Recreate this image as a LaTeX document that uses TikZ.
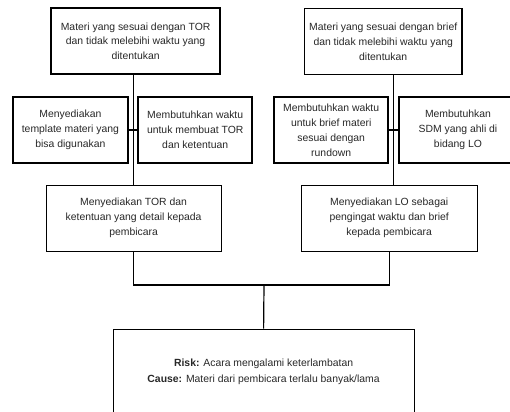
\documentclass[tikz,border=0pt]{standalone}
\usepackage{fontspec}
\setmainfont{Liberation Sans}
\usepackage{tikz}
\usetikzlibrary{calc}
\definecolor{mytext}{RGB}{40,40,40}
\tikzset{
  goalbox/.style={rectangle, draw=black, fill=white, align=center,
    minimum height=1.65cm, line width=1.05pt, text=mytext,
    font=\fontsize{7.4}{10.6}\selectfont},
  stepbox/.style={rectangle, draw=black, fill=white, align=center,
    minimum height=1.65cm, line width=1.05pt, text=mytext,
    font=\fontsize{7.4}{10.6}\selectfont},
  actbox/.style={rectangle, draw=black, fill=white, align=center,
    minimum height=1.65cm, line width=0.7pt, text=mytext,
    font=\fontsize{7.4}{10.6}\selectfont},
  riskbox/.style={rectangle, draw=black, fill=white, align=center,
    minimum height=2.13cm, line width=0.7pt, text=mytext,
    font=\fontsize{7.4}{11.3}\selectfont},
  line/.style={line width=0.85pt, color=black}
}

\begin{document}
\begin{tikzpicture}
  \useasboundingbox (0,0) rectangle (12.75,-10.3);
  \clip (0,0) rectangle (12.75,-10.3);

  % Top goals
  \node[goalbox, minimum width=4.23cm] (goalL) at (3.39,-1.03)
    {Materi yang sesuai dengan TOR\\dan tidak melebihi waktu yang\\ditentukan};
  \node[goalbox, minimum width=3.60cm] (goalR) at (9.58,-1.04)
    {Materi yang sesuai dengan brief\\dan tidak melebihi waktu yang\\ditentukan};

  % Needs
  \node[stepbox, minimum width=2.88cm] (tmpl) at (1.76,-3.25)
    {Menyediakan\\template materi yang\\bisa digunakan};
  \node[stepbox, minimum width=2.85cm] (waktuTOR) at (4.88,-3.25)
    {Membutuhkan waktu\\untuk membuat TOR\\dan ketentuan};
  \node[stepbox, minimum width=2.85cm] (waktuBrief) at (8.28,-3.25)
    {Membutuhkan waktu\\untuk brief materi\\sesuai dengan\\rundown};
  \node[stepbox, minimum width=2.95cm] (sdm) at (11.45,-3.25)
    {Membutuhkan\\SDM yang ahli di\\bidang LO};

  % Actions
  \node[actbox, minimum width=4.38cm] (torDet) at (3.34,-5.45)
    {Menyediakan TOR dan\\ketentuan yang detail kepada\\pembicara};
  \node[actbox, minimum width=4.40cm] (loBrief) at (9.73,-5.45)
    {Menyediakan LO sebagai\\pengingat waktu dan brief\\kepada pembicara};

  % Risk
  \node[riskbox, minimum width=7.53cm] (risk) at (6.59,-9.29)
    {\textbf{Risk:} Acara mengalami keterlambatan\\
     \textbf{Cause:} Materi dari pembicara terlalu banyak/lama};

  % Connectors
  \coordinate (spineL) at ($(tmpl.east)!0.5!(waktuTOR.west)$);
  \coordinate (spineR) at ($(waktuBrief.east)!0.5!(sdm.west)$);
  \coordinate (join) at (6.6,-7.125);
  \draw[line] (spineL |- goalL.south) -- (spineL |- torDet.north);
  \draw[line] (tmpl.east) -- (waktuTOR.west);
  \draw[line] (spineR |- goalR.south) -- (spineR |- loBrief.north);
  \draw[line] (waktuBrief.east) -- (sdm.west);
  \draw[line] (torDet.south) |- (join) -| (loBrief.south);
  \draw[line] (join) -- (risk.north);
\end{tikzpicture}
\end{document}
